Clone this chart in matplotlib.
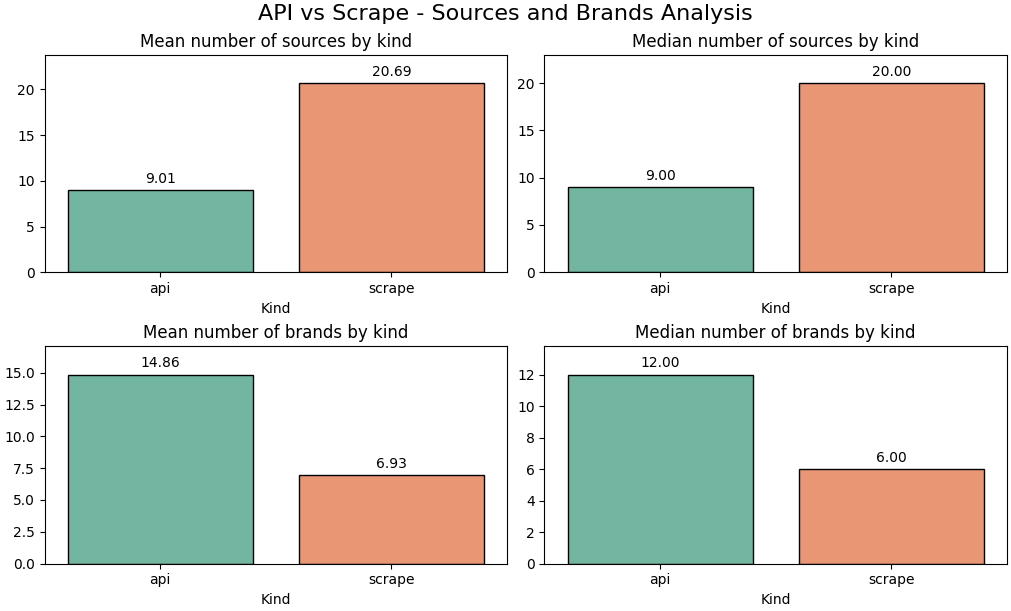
import matplotlib
matplotlib.use("Agg")
import matplotlib.pyplot as plt
import seaborn as sns

kinds = ["api", "scrape"]
mean_sources = [9.01, 20.69]
median_sources = [9.00, 20.00]
mean_brands = [14.86, 6.93]
median_brands = [12.00, 6.00]

panels = [
    ("Mean number of sources by kind", mean_sources),
    ("Median number of sources by kind", median_sources),
    ("Mean number of brands by kind", mean_brands),
    ("Median number of brands by kind", median_brands),
]

fig, axes = plt.subplots(2, 2, figsize=(10.11, 6.11), dpi=100, layout="constrained")
fig.suptitle("API vs Scrape - Sources and Brands Analysis", fontsize=16)
for ax, (title, vals) in zip(axes.flat, panels):
    sns.barplot(x=kinds, y=vals, hue=kinds, palette="Set2", edgecolor="black", ax=ax, legend=False)
    ax.set_title(title, fontsize=12)
    ax.set_xlabel("Kind")
    ax.set_ylim(0, max(vals) * 1.15)
    for i, v in enumerate(vals):
        ax.annotate(f"{v:.2f}", (i, v), xytext=(0, 3), textcoords="offset points",
                    ha="center", va="bottom", fontsize=10)
fig.savefig("out.png")
